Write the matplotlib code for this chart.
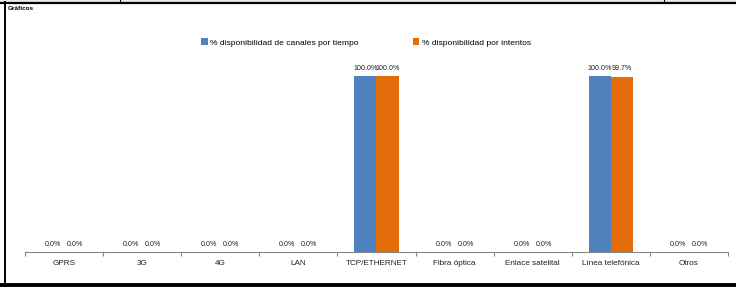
import matplotlib
matplotlib.use("Agg")
import matplotlib.pyplot as plt
from matplotlib.lines import Line2D
import numpy as np

plt.rcParams["font.family"] = ["Liberation Sans", "DejaVu Sans"]

# Data
categories = ["GPRS", "3G", "4G", "LAN", "TCP/ETHERNET", "Fibra óptica",
              "Enlace satelital", "Línea telefónica", "Otros"]
disp_tiempo = [0.0, 0.0, 0.0, 0.0, 100.0, 0.0, 0.0, 100.0, 0.0]
disp_intentos = [0.0, 0.0, 0.0, 0.0, 100.0, 0.0, 0.0, 99.7, 0.0]
series_names = ["% disponibilidad de canales por tiempo", "% disponibilidad por intentos"]

BLUE = "#4f81bd"
ORANGE = "#e46c0a"

W, H = 736, 287
fig = plt.figure(figsize=(W / 100, H / 100), dpi=100)
fig.patch.set_facecolor("white")

# axes placed in pixel coordinates
ax_l, ax_r, ax_b, ax_t = 25, 728, 252, 76
ax = fig.add_axes([ax_l / W, 1 - ax_b / H, (ax_r - ax_l) / W, (ax_b - ax_t) / H])

x = np.arange(len(categories))
bw = 0.282
ax.bar(x - bw / 2, disp_tiempo, width=bw, color=BLUE, label=series_names[0])
ax.bar(x + bw / 2, disp_intentos, width=bw, color=ORANGE, label=series_names[1])

for xi, v in zip(x, disp_tiempo):
    ax.text(xi - bw / 2, v + 2.5, f"{v:.1f}%", ha="center", va="bottom",
            fontsize=5.1, color="#222222", clip_on=False)
for xi, v in zip(x, disp_intentos):
    ax.text(xi + bw / 2, v + 2.5, f"{v:.1f}%", ha="center", va="bottom",
            fontsize=5.1, color="#222222", clip_on=False)

ax.set_xlim(-0.5, len(categories) - 0.5)
ax.set_ylim(0, 100)
ax.set_yticks([])
ax.set_xticks(x)
ax.set_xticklabels(categories, fontsize=5.9, color="#222222")
ax.tick_params(axis="x", which="major", length=0, pad=6)
ax.set_xticks(np.arange(len(categories) + 1) - 0.5, minor=True)
ax.tick_params(axis="x", which="minor", length=3, color="#868686", width=0.8, direction="out")
for s in ["top", "right", "left"]:
    ax.spines[s].set_visible(False)
ax.spines["bottom"].set_color("#868686")
ax.spines["bottom"].set_linewidth(0.8)
ax.set_facecolor("none")

leg = fig.legend(loc="center", bbox_to_anchor=(366 / W, 1 - 42.5 / H), ncol=2,
                 frameon=False, fontsize=6.1, handlelength=0.75, handleheight=0.75,
                 handletextpad=0.3, columnspacing=6.4)

fig.text(8 / W, 1 - 8 / H, "Gráficos", fontsize=4.6, fontweight="bold",
         ha="left", va="center")

# cell border lines around the chart
fig.add_artist(Line2D([0, 1], [1 - 0.5 / H, 1 - 0.5 / H], color="#dce6f1", lw=1.2))
fig.add_artist(Line2D([0, 1], [1 - 2.5 / H, 1 - 2.5 / H], color="black", lw=1.6))
fig.add_artist(Line2D([120 / W, 120 / W], [1 - 2 / H, 1], color="black", lw=0.8))
fig.add_artist(Line2D([664 / W, 664 / W], [1 - 2 / H, 1], color="black", lw=0.8))
fig.add_artist(Line2D([4.5 / W, 4.5 / W], [0, 1 - 2 / H], color="black", lw=1.4))
fig.add_artist(Line2D([0, 1], [1.8 / H, 1.8 / H], color="black", lw=2.8))

fig.savefig("out.png", dpi=100, facecolor="white")
